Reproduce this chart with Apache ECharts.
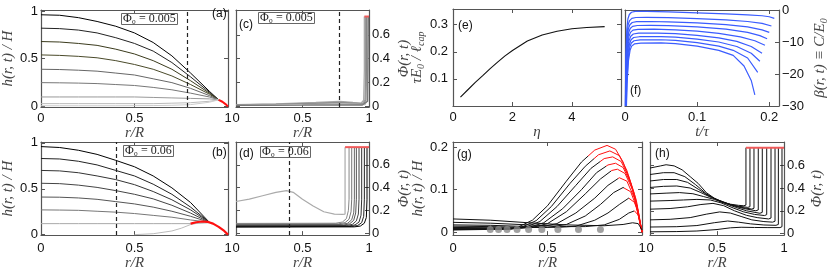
<!DOCTYPE html>
<html><head><meta charset="utf-8">
<script src="https://cdn.jsdelivr.net/npm/echarts@6/dist/echarts.min.js"></script>
<style>html,body{margin:0;padding:0;background:#fff}#c{width:830px;height:272px}</style>
</head><body><div id="c"></div>
<script>
// ---------------- DATA ----------------
// (a) h(r,t)/H, Phi0 = 0.005
const rA = [0,0.1,0.2,0.3,0.4,0.5,0.6,0.7,0.8,0.9,0.95];
const hA = [
  [0.96,0.955,0.93,0.89,0.84,0.77,0.67,0.53,0.35,0.16,0.07],
  [0.82,0.815,0.80,0.77,0.72,0.66,0.58,0.46,0.31,0.15,0.07],
  [0.68,0.675,0.66,0.64,0.60,0.55,0.48,0.39,0.27,0.14,0.07],
  [0.54,0.535,0.525,0.51,0.48,0.44,0.39,0.32,0.23,0.13,0.07],
  [0.39,0.387,0.38,0.37,0.35,0.33,0.29,0.25,0.19,0.115,0.07],
  [0.25,0.248,0.245,0.24,0.23,0.22,0.20,0.175,0.14,0.10,0.07],
  [0.10,0.10,0.10,0.10,0.10,0.10,0.095,0.09,0.085,0.08,0.07],
  [0.03,0.03,0.03,0.03,0.03,0.03,0.03,0.035,0.04,0.055,0.07],
  [0.008,0.008,0.008,0.008,0.008,0.009,0.01,0.013,0.02,0.045,0.07]
];
const redA = [[0.95,0.07],[0.97,0.05],[0.99,0.02],[1,0]];
const dashA = 0.78;

// (b) h(r,t)/H, Phi0 = 0.06
const rB = [0,0.1,0.2,0.3,0.4,0.5,0.6,0.7,0.8,0.9];
const hB = [
  [0.96,0.95,0.92,0.875,0.81,0.74,0.64,0.51,0.35,0.135],
  [0.83,0.825,0.80,0.76,0.70,0.64,0.55,0.44,0.30,0.135],
  [0.70,0.695,0.675,0.64,0.60,0.545,0.47,0.38,0.27,0.135],
  [0.56,0.556,0.54,0.515,0.48,0.44,0.39,0.32,0.235,0.135],
  [0.41,0.408,0.40,0.385,0.36,0.335,0.30,0.255,0.20,0.135],
  [0.27,0.268,0.265,0.255,0.245,0.23,0.21,0.19,0.16,0.135],
  [0.12,0.12,0.12,0.12,0.12,0.12,0.12,0.12,0.12,0.13]
];
const hBlast = [[0.5,0],[0.6,0.01],[0.7,0.04],[0.75,0.07],[0.8,0.11],[0.85,0.13],[0.9,0.135]];
const redB = [[0.8,0.12],[0.83,0.135],[0.86,0.143],[0.89,0.14],[0.92,0.12],[0.95,0.085],[0.98,0.04],[1,0]];
const dashB = 0.4;

// (c) Phi(r,t), Phi0 = 0.005
const phiC = [
  [[0,0.012],[0.3,0.018],[0.6,0.03],[0.78,0.04],[0.88,0.03],[0.94,0.025],[0.96,0.05],[0.965,0.3],[0.965,0.755]],
  [[0,0.01],[0.3,0.015],[0.6,0.025],[0.78,0.032],[0.9,0.025],[0.95,0.02],[0.97,0.05],[0.975,0.3],[0.975,0.755]],
  [[0,0.008],[0.3,0.012],[0.6,0.02],[0.78,0.026],[0.9,0.02],[0.96,0.016],[0.978,0.05],[0.982,0.3],[0.982,0.755]],
  [[0,0.006],[0.3,0.009],[0.6,0.014],[0.78,0.018],[0.9,0.015],[0.97,0.012],[0.985,0.05],[0.99,0.3],[0.99,0.755]],
  [[0,0.005],[0.5,0.007],[0.8,0.01],[0.95,0.009],[0.99,0.04],[0.995,0.755]]
];
const redC = [[0.965,0.755],[1,0.755]];

// (d) Phi(r,t), Phi0 = 0.06
const phiDgray = [[0,0.28],[0.1,0.3],[0.2,0.33],[0.3,0.36],[0.38,0.375],[0.43,0.36],[0.5,0.3],[0.58,0.24],[0.66,0.19],[0.74,0.17],[0.8,0.168],[0.82,0.17],[0.82,0.755]];
const phiD = [
  [[0,0.088],[0.75,0.09],[0.8,0.1],[0.83,0.13],[0.845,0.2],[0.85,0.3],[0.85,0.755]],
  [[0,0.082],[0.77,0.084],[0.82,0.095],[0.85,0.125],[0.865,0.19],[0.87,0.3],[0.87,0.755]],
  [[0,0.077],[0.79,0.079],[0.84,0.09],[0.87,0.12],[0.885,0.18],[0.89,0.3],[0.89,0.755]],
  [[0,0.072],[0.81,0.074],[0.855,0.085],[0.885,0.115],[0.9,0.18],[0.905,0.3],[0.905,0.755]],
  [[0,0.068],[0.83,0.07],[0.875,0.08],[0.905,0.11],[0.92,0.17],[0.925,0.3],[0.925,0.755]],
  [[0,0.064],[0.85,0.066],[0.895,0.075],[0.925,0.1],[0.94,0.16],[0.945,0.3],[0.945,0.755]],
  [[0,0.06],[0.87,0.062],[0.915,0.07],[0.945,0.095],[0.96,0.15],[0.965,0.3],[0.965,0.755]],
  [[0,0.056],[0.89,0.058],[0.935,0.065],[0.965,0.09],[0.98,0.14],[0.985,0.3],[0.985,0.755]]
];
const redD = [[0.82,0.755],[1,0.755]];

// (e) tau E0 / l_cap vs eta
const etaE = [0.25,0.5,0.75,1,1.25,1.5,1.75,2,2.5,3,3.5,4,4.5,5.1];
const tauE = [0.033,0.06,0.087,0.112,0.138,0.162,0.185,0.205,0.24,0.262,0.276,0.285,0.29,0.293];

// (f) beta(r,t) vs t/tau
const betaF = [
  [[0.0004,-30],[0.0012,-14],[0.0025,-6],[0.004,-2.8],[0.006,-1.4],[0.009,-0.7],[0.014,-0.45],[0.03,-0.45],[0.06,-0.6],[0.1,-0.9],[0.14,-1.2],[0.17,-1.5],[0.19,-1.8],[0.2,-2.1],[0.207,-2.6]],
  [[0.0006,-30],[0.0014,-15],[0.0028,-7.8],[0.0043,-4.6],[0.0064,-3.3],[0.0095,-2.6],[0.015,-2.35],[0.03,-2.3],[0.06,-2.4],[0.1,-2.7],[0.14,-3.1],[0.17,-3.6],[0.19,-4.2],[0.203,-5]],
  [[0.0008,-30],[0.0016,-16.5],[0.003,-9.1],[0.0046,-5.9],[0.0068,-4.6],[0.01,-3.9],[0.016,-3.65],[0.035,-3.6],[0.06,-3.7],[0.1,-4.0],[0.14,-4.6],[0.17,-5.3],[0.19,-6.2],[0.2,-7]],
  [[0.001,-30],[0.0018,-17.8],[0.0033,-10.3],[0.005,-7.1],[0.0072,-5.8],[0.0105,-5.1],[0.017,-4.85],[0.035,-4.8],[0.06,-4.9],[0.1,-5.3],[0.14,-6],[0.17,-7],[0.187,-8],[0.197,-9]],
  [[0.0012,-30],[0.002,-19],[0.0036,-11.5],[0.0054,-8.3],[0.0076,-7],[0.011,-6.3],[0.018,-6.05],[0.04,-6.0],[0.07,-6.2],[0.1,-6.6],[0.13,-7.3],[0.16,-8.4],[0.18,-9.6],[0.194,-11]],
  [[0.0014,-30],[0.0022,-20.2],[0.0039,-12.7],[0.0058,-9.5],[0.008,-8.2],[0.0115,-7.5],[0.019,-7.25],[0.045,-7.2],[0.07,-7.4],[0.1,-7.9],[0.13,-8.7],[0.155,-9.8],[0.175,-11.4],[0.19,-13.5]],
  [[0.0016,-30],[0.0024,-21.3],[0.0042,-13.8],[0.0062,-10.6],[0.0084,-9.3],[0.012,-8.6],[0.02,-8.35],[0.05,-8.3],[0.07,-8.5],[0.1,-9.1],[0.13,-10],[0.155,-11.4],[0.175,-13.5],[0.187,-16]],
  [[0.0018,-30],[0.0026,-22.3],[0.0045,-14.8],[0.0066,-11.6],[0.0088,-10.3],[0.0125,-9.6],[0.021,-9.35],[0.05,-9.3],[0.07,-9.5],[0.1,-10.2],[0.13,-11.3],[0.15,-12.6],[0.17,-15],[0.184,-19.5]],
  [[0.002,-30],[0.0028,-23.3],[0.0048,-15.8],[0.007,-12.6],[0.0092,-11.3],[0.013,-10.6],[0.022,-10.35],[0.05,-10.3],[0.07,-10.5],[0.1,-11.3],[0.13,-12.6],[0.15,-14.2],[0.165,-17.5],[0.175,-22],[0.18,-26.5]]
];

// (g) h(r,t)/H late stage
const hG = [
  [[0,0.005],[0.28,0.007],[0.34,0.011],[0.42,0.028],[0.5,0.062],[0.6,0.12],[0.68,0.165],[0.75,0.193],[0.815,0.204],[0.86,0.195],[0.9,0.165],[0.94,0.115],[0.97,0.065],[1,0]],
  [[0,0.006],[0.3,0.007],[0.36,0.011],[0.44,0.027],[0.52,0.06],[0.62,0.115],[0.7,0.155],[0.77,0.182],[0.83,0.191],[0.88,0.18],[0.92,0.145],[0.96,0.09],[1,0]],
  [[0,0.007],[0.3,0.007],[0.38,0.011],[0.46,0.025],[0.55,0.06],[0.65,0.11],[0.73,0.15],[0.8,0.173],[0.845,0.177],[0.89,0.166],[0.93,0.13],[0.97,0.075],[1,0]],
  [[0,0.008],[0.3,0.008],[0.4,0.011],[0.48,0.022],[0.58,0.055],[0.68,0.1],[0.76,0.14],[0.82,0.158],[0.86,0.162],[0.9,0.152],[0.94,0.115],[0.97,0.07],[1,0]],
  [[0,0.009],[0.3,0.009],[0.42,0.011],[0.5,0.02],[0.6,0.048],[0.7,0.09],[0.78,0.125],[0.84,0.145],[0.87,0.148],[0.91,0.138],[0.95,0.1],[0.98,0.05],[1,0]],
  [[0,0.011],[0.3,0.010],[0.45,0.011],[0.55,0.02],[0.65,0.045],[0.75,0.08],[0.82,0.11],[0.88,0.128],[0.92,0.12],[0.96,0.08],[1,0]],
  [[0,0.014],[0.2,0.013],[0.4,0.011],[0.5,0.011],[0.6,0.018],[0.7,0.038],[0.78,0.065],[0.85,0.093],[0.9,0.105],[0.94,0.095],[0.97,0.06],[1,0]],
  [[0,0.017],[0.2,0.016],[0.4,0.013],[0.55,0.011],[0.65,0.014],[0.75,0.028],[0.82,0.045],[0.88,0.065],[0.93,0.08],[0.96,0.07],[0.98,0.045],[1,0]],
  [[0,0.023],[0.2,0.021],[0.4,0.017],[0.6,0.013],[0.7,0.013],[0.8,0.017],[0.88,0.03],[0.93,0.045],[0.96,0.05],[0.98,0.04],[1,0]],
  [[0,0.031],[0.2,0.028],[0.4,0.022],[0.6,0.017],[0.8,0.015],[0.9,0.018],[0.95,0.022],[0.98,0.02],[1,0.005]]
];
const jamG = [0.716,0.746,0.776,0.808,0.838,0.871,0.903,0.933,0.958,null];
const dotsG = [[0.197,0.006],[0.241,0.006],[0.286,0.006],[0.339,0.006],[0.40,0.006],[0.47,0.006],[0.555,0.006],[0.664,0.006],[0.78,0.006]];

// (h) Phi(r,t) late stage
const phiH = [
  [[0,0.576],[0.08,0.595],[0.12,0.605],[0.18,0.595],[0.24,0.56],[0.3,0.5],[0.36,0.44],[0.42,0.36],[0.48,0.31],[0.54,0.275],[0.6,0.258],[0.66,0.248],[0.7,0.244],[0.716,0.25],[0.716,0.755]],
  [[0,0.519],[0.1,0.535],[0.18,0.535],[0.26,0.5],[0.34,0.43],[0.42,0.35],[0.5,0.295],[0.58,0.26],[0.66,0.24],[0.73,0.23],[0.746,0.236],[0.746,0.755]],
  [[0,0.462],[0.1,0.475],[0.2,0.475],[0.28,0.45],[0.36,0.39],[0.44,0.33],[0.52,0.29],[0.6,0.255],[0.68,0.23],[0.76,0.215],[0.776,0.222],[0.776,0.755]],
  [[0,0.405],[0.1,0.415],[0.2,0.418],[0.3,0.4],[0.38,0.36],[0.46,0.315],[0.54,0.28],[0.62,0.245],[0.7,0.22],[0.79,0.2],[0.808,0.207],[0.808,0.755]],
  [[0,0.348],[0.12,0.355],[0.22,0.36],[0.32,0.35],[0.4,0.325],[0.48,0.3],[0.56,0.265],[0.64,0.23],[0.72,0.2],[0.82,0.178],[0.838,0.186],[0.838,0.755]],
  [[0,0.285],[0.15,0.29],[0.25,0.295],[0.35,0.3],[0.45,0.295],[0.53,0.27],[0.62,0.225],[0.7,0.19],[0.78,0.168],[0.855,0.158],[0.871,0.166],[0.871,0.755]],
  [[0,0.214],[0.15,0.22],[0.28,0.235],[0.38,0.255],[0.47,0.265],[0.55,0.245],[0.63,0.2],[0.72,0.16],[0.8,0.14],[0.885,0.128],[0.903,0.136],[0.903,0.755]],
  [[0,0.12],[0.15,0.125],[0.3,0.14],[0.42,0.17],[0.52,0.19],[0.6,0.18],[0.68,0.15],[0.76,0.12],[0.85,0.105],[0.915,0.1],[0.933,0.108],[0.933,0.755]],
  [[0,0.057],[0.2,0.06],[0.35,0.07],[0.48,0.095],[0.58,0.11],[0.66,0.1],[0.75,0.085],[0.85,0.075],[0.94,0.072],[0.958,0.08],[0.958,0.755]],
  [[0,0.015],[0.2,0.017],[0.35,0.022],[0.5,0.035],[0.6,0.05],[0.68,0.055],[0.78,0.053],[0.88,0.052],[0.97,0.052],[0.985,0.06],[0.985,0.755]]
];
const redH = [[0.716,0.755],[1,0.755]];

// tick labels
const ticksR = [0,0.5,1];
const ticksH = [0,0.5,1];
const ticksPhi = [0,0.2,0.4,0.6];
const ticksEtaX = [0,2,4];
const ticksEtaY = [0.1,0.2,0.3];
const ticksTX = [0,0.1,0.2];
const ticksBeta = [-30,-20,-10,0];
const ticksHG = [0,0.1,0.2];

// ---------------- STYLE / BUILD ----------------
const SANS = '"Liberation Sans", Arial, sans-serif';
const SERIF = '"Liberation Serif", "DejaVu Serif", serif';
const AX = '#555';
const RED = '#ff1010';
const RED2 = '#f05a5a';
const BLUE = '#3a5cff';
const grids = [], xAxes = [], yAxes = [], series = [], titles = [], visualMaps = [];

function fmt(v){ return v < 0 ? '\u2212' + (-v) : String(v); }
const nameStyle = {fontFamily: SERIF, fontStyle: 'italic', fontSize: 15, color: '#444',
  rich: {s: {fontFamily: SERIF, fontStyle: 'italic', fontSize: 10, color: '#444', padding: [7,0,0,0]}}};

function panel(g, xc, yc){
  const gi = grids.length;
  grids.push({left: g[0], top: g[1], width: g[2], height: g[3]});
  const line = {show: true, onZero: false, lineStyle: {color: AX, width: 1.2}};
  const tick = (vals) => ({show: true, inside: true, length: 4, customValues: vals, lineStyle: {color: AX, width: 1}});
  const lab = (vals, m) => ({show: true, customValues: vals, formatter: fmt, fontFamily: SANS, fontSize: 13, color: '#111', margin: m});
  xAxes.push({type: 'value', gridIndex: gi, position: 'bottom', min: xc.min, max: xc.max,
    axisLine: line, axisTick: tick(xc.ticks), axisLabel: lab(xc.labels || xc.ticks, xc.margin),
    splitLine: {show: false}, name: xc.name, nameLocation: 'middle', nameGap: xc.gap, nameTextStyle: nameStyle});
  xAxes.push({type: 'value', gridIndex: gi, position: 'top', min: xc.min, max: xc.max,
    axisLine: line, axisTick: tick(xc.ticks), axisLabel: {show: false}, splitLine: {show: false}});
  const left = yc.side !== 'right';
  const yl = {type: 'value', gridIndex: gi, position: 'left', min: yc.min, max: yc.max,
    axisLine: line, axisTick: tick(yc.ticks), splitLine: {show: false}};
  const yr = {type: 'value', gridIndex: gi, position: 'right', min: yc.min, max: yc.max,
    axisLine: line, axisTick: tick(yc.ticks), splitLine: {show: false}};
  const labCfg = lab(yc.labels || yc.ticks, yc.margin);
  const nm = {name: yc.name, nameLocation: 'middle', nameGap: yc.gap, nameRotate: 90, nameTextStyle: nameStyle};
  if (left) { Object.assign(yl, {axisLabel: labCfg}, nm); yr.axisLabel = {show: false}; }
  else { Object.assign(yr, {axisLabel: labCfg}, nm); yl.axisLabel = {show: false}; }
  yAxes.push(yl); yAxes.push(yr);
  return gi;
}
function addLine(gi, data, color, width, extra){
  const s = {type: 'line', xAxisIndex: gi*2, yAxisIndex: gi*2, data: data,
    symbol: 'none', showSymbol: false, lineStyle: {width: width},
    silent: true, animation: false, z: 2};
  if (color) { s.lineStyle.color = color; s.itemStyle = {color: color}; }
  series.push(Object.assign(s, extra || {}));
  return series.length - 1;
}
function dash(gi, x){
  series.push({type: 'line', xAxisIndex: gi*2, yAxisIndex: gi*2, data: [], silent: true, animation: false,
    markLine: {symbol: 'none', silent: true, animation: false, label: {show: false},
      lineStyle: {type: [4,3], color: '#222', width: 1.2}, data: [{xAxis: x}]}});
}
function label(txt, x, y){
  titles.push({text: txt, left: x, top: y, padding: 0,
    textStyle: {fontFamily: SANS, fontSize: 12, fontWeight: 'normal', color: '#111'}});
}
function box(txt, x, y){
  titles.push({text: txt, left: x, top: y, padding: [0,2,0,2], borderColor: '#666', borderWidth: 1,
    textStyle: {fontFamily: SERIF, fontSize: 12, fontWeight: 'normal', color: '#222', lineHeight: 12}});
}
const zip = (xs, ys) => xs.map((x, i) => [x, ys[i]]);

// (a)
const colA = ['#000','#222','#3a3a1c','#4a4a2a','#666','#777','#999','#bbb','#ccc'];
let gA = panel([39,10,189,97], {min: 0, max: 1, ticks: ticksR, name: 'r/R', gap: 11, margin: 5},
  {min: -0.005, max: 1.01, ticks: ticksH, name: 'h(r, t) / H', gap: 24, margin: 3});
hA.forEach((v, i) => addLine(gA, zip(rA, v), colA[i], 1));
addLine(gA, redA, RED, 2, {z: 3});
dash(gA, dashA);
box('\u03A6\u2080 = 0.005', 121, 13);
label('(a)', 212, 8);

// (c)
const colC = ['#aaa','#999','#888','#bbb','#777'];
let gC = panel([236,10,133,97], {min: 0, max: 1, ticks: ticksR, name: 'r/R', gap: 11, margin: 5},
  {min: -0.008, max: 0.81, ticks: ticksPhi, name: '\u03A6(r, t)', gap: 28, margin: 3, side: 'right'});
phiC.forEach((d, i) => addLine(gC, d, colC[i], 1.3));
addLine(gC, redC, RED2, 2, {z: 3});
dash(gC, dashA);
box('\u03A6\u2080 = 0.005', 258, 12);
label('(c)', 239, 19);

// (b)
const colB = ['#000','#222','#333','#444','#555','#777','#aaa'];
let gB = panel([39,142,189,96], {min: 0, max: 1, ticks: ticksR, name: 'r/R', gap: 18, margin: 7},
  {min: -0.005, max: 1.01, ticks: ticksH, name: 'h(r, t) / H', gap: 24, margin: 3});
hB.forEach((v, i) => addLine(gB, zip(rB, v), colB[i], 1));
addLine(gB, hBlast, '#bbb', 1);
addLine(gB, redB, RED, 2.2, {z: 3});
dash(gB, dashB);
box('\u03A6\u2080 = 0.06', 123, 145);
label('(b)', 212, 147);

// (d)
const colD = ['#888','#777','#666','#555','#444','#333','#222','#000'];
let gD = panel([236,142,133,96], {min: 0, max: 1, ticks: ticksR, name: 'r/R', gap: 18, margin: 7},
  {min: -0.014, max: 0.80, ticks: ticksPhi, name: '\u03A6(r, t)', gap: 28, margin: 3, side: 'right'});
addLine(gD, phiDgray, '#aaa', 1.2);
phiD.forEach((d, i) => addLine(gD, d, colD[i], 1));
addLine(gD, redD, RED2, 2, {z: 3});
dash(gD, dashB);
box('\u03A6\u2080 = 0.06', 260, 146);
label('(d)', 239, 148);

// (e)
let gE = panel([453,9,168,97], {min: 0, max: 5.65, ticks: ticksEtaX, name: '\u03B7', gap: 13, margin: 5},
  {min: 0, max: 0.358, ticks: ticksEtaY, name: '\u03C4E{s|0} / \u2113{s|cap}', gap: 22, margin: 5});
addLine(gE, zip(etaE, tauE), '#111', 1.1);
label('(e)', 458, 20);

// (f)
let gF = panel([625,10,159,96], {min: 0, max: 0.2135, ticks: ticksTX, name: 't/\u03C4', gap: 11, margin: 5},
  {min: -30, max: 0, ticks: ticksBeta, name: '\u03B2(r, t) \u2261 C/E{s|0}', gap: 33, margin: 3, side: 'right'});
betaF.forEach(d => addLine(gF, d, BLUE, 1.2));
label('(f)', 630, 85);

// (g)
let gG = panel([453,142,189,96], {min: 0, max: 1, ticks: ticksR, name: 'r/R', gap: 18, margin: 7},
  {min: -0.007, max: 0.212, ticks: ticksHG, name: 'h(r, t) / H', gap: 22, margin: 5});
hG.forEach((d, i) => {
  const hasJam = jamG[i] !== null;
  const si = addLine(gG, d, hasJam ? null : '#111', 1);
  if (hasJam) {
    visualMaps.push({show: false, type: 'piecewise', seriesIndex: si, dimension: 0,
      pieces: [{min: -1, max: jamG[i], color: '#111'}, {min: jamG[i], max: 2, color: RED}]});
  }
});
series.push({type: 'scatter', xAxisIndex: gG*2, yAxisIndex: gG*2, data: dotsG, symbolSize: 7,
  itemStyle: {color: '#888'}, silent: true, animation: false, z: 4});
label('(g)', 457, 149);

// (h)
let gH = panel([650,142,134,96], {min: 0, max: 1, ticks: ticksR, name: 'r/R', gap: 18, margin: 7},
  {min: -0.014, max: 0.805, ticks: ticksPhi, name: '\u03A6(r, t)', gap: 26, margin: 3, side: 'right'});
phiH.forEach(d => addLine(gH, d, '#111', 1));
addLine(gH, redH, RED2, 2, {z: 3});
label('(h)', 655, 148);

const chart = echarts.init(document.getElementById('c'), null, {renderer: 'canvas'});
chart.setOption({
  animation: false,
  backgroundColor: '#fff',
  title: titles,
  grid: grids,
  xAxis: xAxes,
  yAxis: yAxes,
  visualMap: visualMaps,
  series: series
});
</script></body></html>
